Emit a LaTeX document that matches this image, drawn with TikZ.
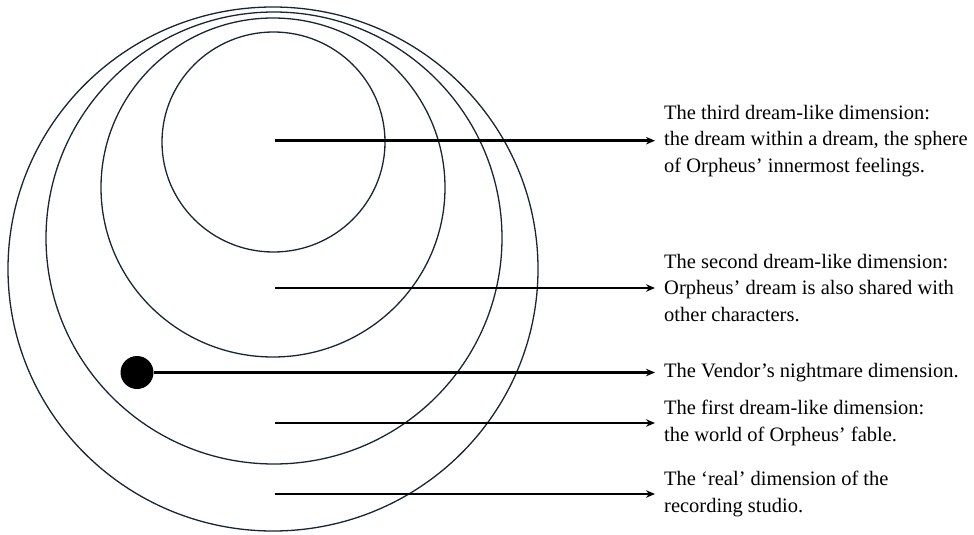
\documentclass[tikz,border=0pt]{standalone}
\usepackage{fontspec}
\setmainfont{Liberation Serif}
\usetikzlibrary{arrows.meta}
\definecolor{ringcol}{RGB}{24,38,52}
\begin{document}
\begin{tikzpicture}[x=1pt, y=-1pt, font=\fontsize{20.5}{26.5}\selectfont, line join=round, >={Stealth[length=9pt,width=7.5pt]}]
\useasboundingbox (0,0) rectangle (974,535);
\tikzset{ring/.style={draw=ringcol, line width=1.3pt},
  lbl/.style={anchor=west, align=left, inner xsep=9pt, inner ysep=0pt},
  pointer/.style={->, line width=2.7pt}}
% the nested dimensions
\draw[ring] (273,269) ellipse (265 and 262);
\draw[ring] (274,238) ellipse (228 and 226);
\draw[ring] (273,187.5) ellipse (172 and 169.5);
\draw[ring] (273.5,142) ellipse (111.5 and 110);
% labels
\foreach \n/\y/\t in {third/140.7/{The third dream-like dimension:\\the dream within a dream, the sphere\\of Orpheus’ innermost feelings.},
  second/288/{The second dream-like dimension:\\Orpheus’ dream is also shared with\\other characters.},
  first/423/{The first dream-like dimension:\\the world of Orpheus’ fable.},
  real/494/{The ‘real’ dimension of the\\recording studio.}}{
  \coordinate (s\n) at (275,\y);
  \node[lbl] (t\n) at (655,\y) {\t};
  \draw[pointer] (s\n) -- (t\n.west);
}
\node[circle, fill, inner sep=0pt, minimum size=33pt] (vendor) at (137,372.5) {};
\node[lbl] (tvendor) at (655,372.5) {The Vendor’s nightmare dimension.};
\draw[pointer] (vendor.east) -- (tvendor.west);
\end{tikzpicture}
\end{document}
